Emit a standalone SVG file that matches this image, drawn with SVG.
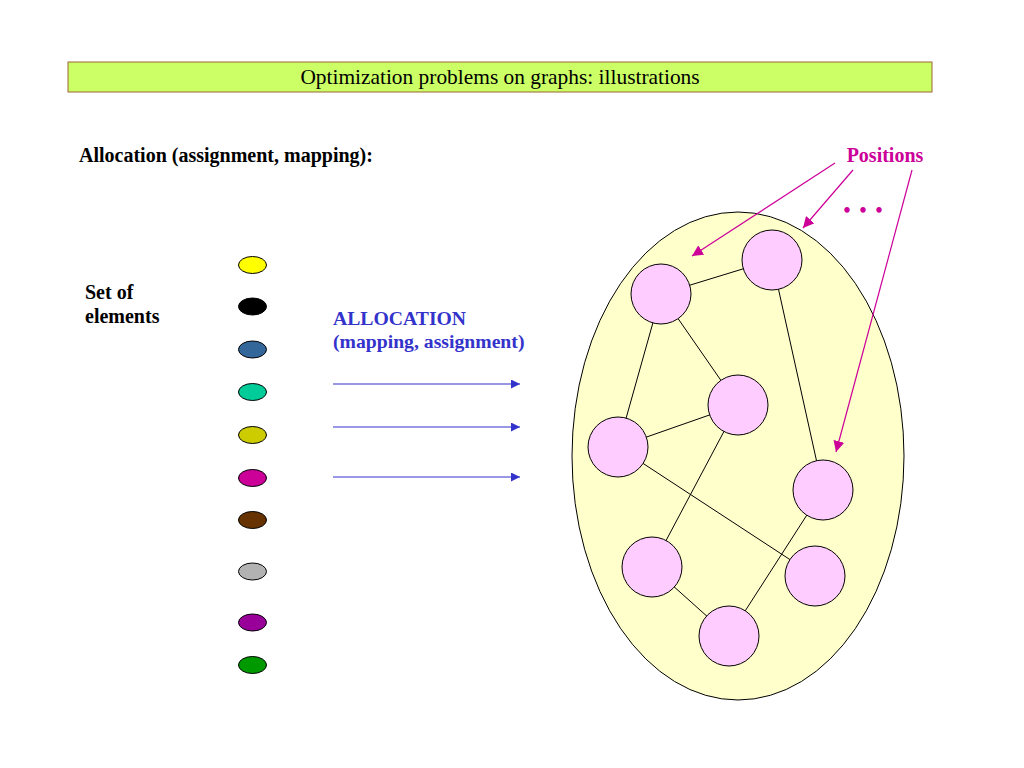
<svg xmlns="http://www.w3.org/2000/svg" width="1024" height="768" viewBox="0 0 1024 768">
<defs>
<style>
.serif{font-family:"Liberation Serif","Times New Roman",serif}
.b{font-weight:bold}
.elem{stroke:#000;stroke-width:1}
.node{fill:#ffccff;stroke:#000;stroke-width:1}
.edge{stroke:#000;stroke-width:1;fill:none}
.blue{stroke:#3333cc;stroke-width:1.2;fill:none}
.pink{stroke:#cc0099;stroke-width:1.2;fill:none}
</style>
<marker id="ab" viewBox="0 0 10 10" refX="10" refY="5" markerWidth="9" markerHeight="9" markerUnits="userSpaceOnUse" orient="auto">
<path d="M0,0 L10,5 L0,10 z" fill="#3333cc"/>
</marker>
<marker id="ap" viewBox="0 0 10 10" refX="10" refY="5" markerWidth="11" markerHeight="11" markerUnits="userSpaceOnUse" orient="auto">
<path d="M0,0 L10,5 L0,10 z" fill="#cc0099"/>
</marker>
</defs>
<rect width="1024" height="768" fill="#fff"/>
<g id="title">
<rect x="68" y="62" width="864" height="30" fill="#ccff66" stroke="#996633" stroke-width="1"/>
<text x="500" y="84" text-anchor="middle" class="serif" font-size="21.4">Optimization problems on graphs: illustrations</text>
</g>
<text x="79" y="162" class="serif b" font-size="20">Allocation (assignment, mapping):</text>
<text class="serif b" font-size="20"><tspan x="85" y="299">Set of</tspan><tspan x="85" y="323">elements</tspan></text>
<text class="serif b" font-size="19.7" fill="#3333cc"><tspan x="333" y="325">ALLOCATION</tspan><tspan x="333" y="348">(mapping, assignment)</tspan></text>
<text x="885" y="162" text-anchor="middle" class="serif b" font-size="20" fill="#cc0099">Positions</text>
<text x="864" y="217" text-anchor="middle" class="serif b" font-size="20" letter-spacing="2" fill="#cc0099">• • •</text>
<g id="elements">
<ellipse id="e1" cx="252.5" cy="265" rx="14" ry="8.5" class="elem" fill="#ffff00"/>
<ellipse id="e2" cx="252.5" cy="306.5" rx="14" ry="8.5" class="elem" fill="#000000"/>
<ellipse id="e3" cx="252.5" cy="349.5" rx="14" ry="8.5" class="elem" fill="#336699"/>
<ellipse id="e4" cx="252.5" cy="392" rx="14" ry="8.5" class="elem" fill="#00cc99"/>
<ellipse id="e5" cx="252.5" cy="435" rx="14" ry="8.5" class="elem" fill="#cccc00"/>
<ellipse id="e6" cx="252.5" cy="478" rx="14" ry="8.5" class="elem" fill="#cc0099"/>
<ellipse id="e7" cx="252.5" cy="520" rx="14" ry="8.5" class="elem" fill="#663300"/>
<ellipse id="e8" cx="252.5" cy="571.5" rx="14" ry="8.5" class="elem" fill="#b2b2b2"/>
<ellipse id="e9" cx="252.5" cy="622.5" rx="14" ry="8.5" class="elem" fill="#990099"/>
<ellipse id="e10" cx="252.5" cy="665" rx="14" ry="8.5" class="elem" fill="#009900"/>
</g>
<g id="region">
<ellipse cx="738" cy="456" rx="166" ry="244" fill="#ffffcc" stroke="#000" stroke-width="1"/>
</g>
<g id="connectors">
<line x1="333" y1="384" x2="520" y2="384" class="blue" marker-end="url(#ab)"/>
<line x1="333" y1="427" x2="520" y2="427" class="blue" marker-end="url(#ab)"/>
<line x1="333" y1="477" x2="520" y2="477" class="blue" marker-end="url(#ab)"/>
<line x1="835" y1="163" x2="692" y2="256" class="pink" marker-end="url(#ap)"/>
<line x1="853" y1="170" x2="803" y2="228" class="pink" marker-end="url(#ap)"/>
<line x1="912" y1="170" x2="836" y2="452" class="pink" marker-end="url(#ap)"/>
<line x1="661" y1="294" x2="772" y2="260" class="edge"/>
<line x1="661" y1="294" x2="618" y2="447" class="edge"/>
<line x1="661" y1="294" x2="738" y2="405" class="edge"/>
<line x1="738" y1="405" x2="618" y2="447" class="edge"/>
<line x1="772" y1="260" x2="823" y2="490" class="edge"/>
<line x1="738" y1="405" x2="652" y2="567" class="edge"/>
<line x1="618" y1="447" x2="815" y2="576" class="edge"/>
<line x1="652" y1="567" x2="729" y2="636" class="edge"/>
<line x1="729" y1="636" x2="823" y2="490" class="edge"/>
</g>
<g id="n1"><circle cx="661" cy="294" r="30" class="node"/></g>
<g id="n2"><circle cx="772" cy="260" r="30" class="node"/></g>
<g id="n3"><circle cx="738" cy="405" r="30" class="node"/></g>
<g id="n4"><circle cx="618" cy="447" r="30" class="node"/></g>
<g id="n5"><circle cx="823" cy="490" r="30" class="node"/></g>
<g id="n6"><circle cx="652" cy="567" r="30" class="node"/></g>
<g id="n7"><circle cx="815" cy="576" r="30" class="node"/></g>
<g id="n8"><circle cx="729" cy="636" r="30" class="node"/></g>
</svg>
